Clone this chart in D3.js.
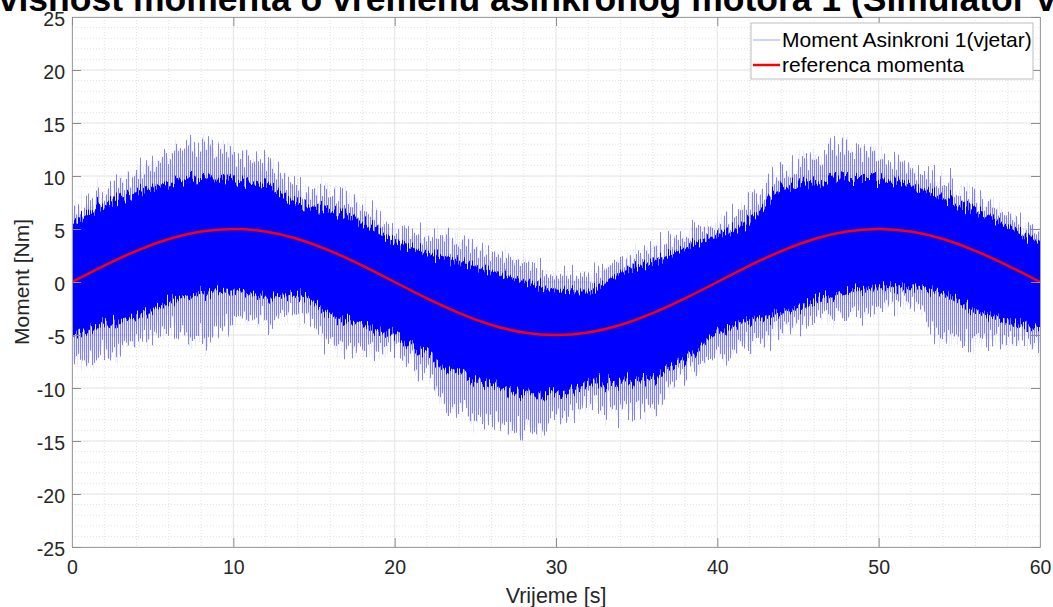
<!DOCTYPE html>
<html>
<head>
<meta charset="utf-8">
<script src="https://cdn.jsdelivr.net/npm/d3@7/dist/d3.min.js"></script>
<style>
body { margin: 0; background: #fff; }
text { font-family: "Liberation Sans", Arial, Helvetica, sans-serif; }
</style>
</head>
<body>
<div id="chart"></div>
<script>
// values, every 2 s
var time = [0,2,4,6,8,10,12,14,16,18,20,22,24,26,28,30,32,34,36,38,40,42,44,46,48,50,52,54,56,58,60];
// solid part of the noisy torque band
var coreTop = [5.4,7.3,8.4,9.2,9.8,9.6,9.0,7.5,6.8,5.6,3.9,2.8,1.9,1.0,0.1,-0.7,-0.8,0.9,1.9,3.2,4.4,5.8,8.8,9.4,9.9,9.9,9.2,7.9,6.8,5.2,3.7];
var coreBot = [-5.0,-4.1,-3.2,-1.9,-1.1,-0.8,-1.4,-1.2,-3.1,-3.9,-5.2,-6.8,-8.8,-9.8,-10.6,-10.6,-9.6,-9.5,-9.0,-7.3,-4.8,-3.7,-2.8,-1.9,-1.0,-0.5,-0.5,-1.1,-2.7,-3.6,-4.5];
// tips of the spikes
var spikeTop = [6.5,8.3,10.2,11.8,12.7,12.0,10.9,9.0,8.5,7.0,4.8,4.3,3.9,2.6,1.9,0.6,0.6,2.0,3.1,4.3,5.4,7.4,10.2,11.8,12.6,12.1,10.8,9.3,8.0,6.1,4.4];
var spikeBot = [-7.5,-7.0,-5.3,-4.5,-5.6,-3.4,-3.6,-2.7,-5.6,-6.1,-6.6,-8.8,-12.5,-13.2,-14.0,-12.8,-11.4,-12.2,-11.7,-8.6,-7.0,-5.9,-4.3,-3.4,-3.0,-2.4,-1.9,-5.3,-5.5,-5.2,-6.1];
// reference torque
var reference = [0,1.55,2.94,4.05,4.76,5,4.76,4.05,2.94,1.55,0,-1.55,-2.94,-4.05,-4.76,-5,-4.76,-4.05,-2.94,-1.55,0,1.55,2.94,4.05,4.76,5,4.76,4.05,2.94,1.55,0];

var xTicks = [0,10,20,30,40,50,60];
var yTicks = [-25,-20,-15,-10,-5,0,5,10,15,20,25];
var xMinor = [0,2,4,6,8,10,12,14,16,18,20,22,24,26,28,30,32,34,36,38,40,42,44,46,48,50,52,54,56,58,60];
var yMinor = [-25,-24,-23,-22,-21,-20,-19,-18,-17,-16,-15,-14,-13,-12,-11,-10,-9,-8,-7,-6,-5,-4,-3,-2,-1,0,1,2,3,4,5,6,7,8,9,10,11,12,13,14,15,16,17,18,19,20,21,22,23,24,25];
var legendNames = ["Moment Asinkroni 1(vjetar)", "referenca momenta"];
var title = "Ovisnost momenta o vremenu asinkronog motora 1 (Simulator vjetra)";

var margin = {top: 17, right: 13, bottom: 60, left: 72},
    width = 1053 - margin.left - margin.right,
    height = 607 - margin.top - margin.bottom;

var x = d3.scaleLinear().domain([0, 60]).range([0, width]);
var y = d3.scaleLinear().domain([-25, 25]).range([height, 0]);

var svgRoot = d3.select("#chart").append("svg")
    .attr("width", 1053)
    .attr("height", 607);

var defs = svgRoot.append("defs");
defs.append("clipPath").attr("id", "clip")
  .append("rect").attr("width", width).attr("height", height);

// vertical streak roughening, gives the band its spiky edge
function rough(id, scale) {
  var f = defs.append("filter").attr("id", id)
      .attr("x", "-2%").attr("y", "-40%").attr("width", "104%").attr("height", "180%");
  f.append("feTurbulence").attr("type", "fractalNoise")
      .attr("baseFrequency", "0.6 0.004").attr("numOctaves", 2).attr("seed", 4).attr("result", "n");
  f.append("feColorMatrix").attr("in", "n").attr("type", "matrix")
      .attr("values", "0 0 0 0 0.5  0 1 0 0 0  0 0 0 0 0  0 0 0 0 1").attr("result", "m");
  f.append("feDisplacementMap").attr("in", "SourceGraphic").attr("in2", "m")
      .attr("scale", scale).attr("xChannelSelector", "R").attr("yChannelSelector", "G");
}
rough("roughOuter", 55);
rough("roughCore", 30);

// thin vertical strokes for the spike fringe
var hatch = defs.append("pattern").attr("id", "hatch")
    .attr("patternUnits", "userSpaceOnUse")
    .attr("width", 2).attr("height", 8);
hatch.append("rect").attr("width", 1).attr("height", 8)
    .style("fill", "#0000ff").style("fill-opacity", 0.45);

var svg = svgRoot.append("g")
    .attr("transform", "translate(" + margin.left + "," + margin.top + ")");

// minor grid
svg.append("g").selectAll("line").data(xMinor).enter().append("line")
    .attr("x1", d => x(d)).attr("x2", d => x(d))
    .attr("y1", 0).attr("y2", height)
    .style("stroke", "#e2e2e2").style("stroke-dasharray", "1,2");
svg.append("g").selectAll("line").data(yMinor).enter().append("line")
    .attr("y1", d => y(d)).attr("y2", d => y(d))
    .attr("x1", 0).attr("x2", width)
    .style("stroke", "#e2e2e2").style("stroke-dasharray", "1,2");

// major grid
svg.append("g").selectAll("line").data(xTicks).enter().append("line")
    .attr("x1", d => x(d)).attr("x2", d => x(d))
    .attr("y1", 0).attr("y2", height)
    .style("stroke", "#e6e6e6");
svg.append("g").selectAll("line").data(yTicks).enter().append("line")
    .attr("y1", d => y(d)).attr("y2", d => y(d))
    .attr("x1", 0).attr("x2", width)
    .style("stroke", "#e6e6e6");

var plot = svg.append("g").attr("clip-path", "url(#clip)");

var fringe = d3.area()
    .x(function(d, i) { return x(time[i]); })
    .y0(function(d, i) { return y(spikeBot[i]); })
    .y1(function(d, i) { return y(spikeTop[i]); })
    .curve(d3.curveMonotoneX);

var core = d3.area()
    .x(function(d, i) { return x(time[i]); })
    .y0(function(d, i) { return y(coreBot[i]); })
    .y1(function(d, i) { return y(coreTop[i]); })
    .curve(d3.curveMonotoneX);

var outer = plot.append("g").attr("filter", "url(#roughOuter)");
outer.append("path")
    .attr("d", fringe(time))
    .style("fill", "#0000ff").style("fill-opacity", 0.08);
outer.append("path")
    .attr("d", fringe(time))
    .style("fill", "url(#hatch)");
plot.append("g").attr("filter", "url(#roughCore)")
  .append("path")
    .attr("d", core(time))
    .style("fill", "#0000ff");

var refLine = d3.line()
    .x(function(d, i) { return x(time[i]); })
    .y(function(d) { return y(d); })
    .curve(d3.curveNatural);

plot.append("path")
    .attr("d", refLine(reference))
    .style("fill", "none")
    .style("stroke", "#ff0000")
    .style("stroke-width", 2.5);

// axes
var fmt = function(d) { return String(d); };
var xAxis = d3.axisBottom(x).tickValues(xTicks).tickFormat(fmt).tickSizeInner(-9).tickSizeOuter(0).tickPadding(13);
var yAxis = d3.axisLeft(y).tickValues(yTicks).tickFormat(fmt).tickSizeInner(-9).tickSizeOuter(0).tickPadding(7);

var gx = svg.append("g")
    .attr("transform", "translate(0," + height + ")")
    .call(xAxis);
var gy = svg.append("g").call(yAxis);
gy.selectAll("text").attr("dy", "0.45em");
var gx2 = svg.append("g").call(d3.axisTop(x).tickValues(xTicks).tickSizeInner(-9).tickSizeOuter(0).tickFormat(""));
var gy2 = svg.append("g")
    .attr("transform", "translate(" + width + ",0)")
    .call(d3.axisRight(y).tickValues(yTicks).tickSizeInner(-9).tickSizeOuter(0).tickFormat(""));

[gx, gy, gx2, gy2].forEach(function(g) {
  g.selectAll("path.domain").style("stroke", "#a0a0a0");
  g.selectAll(".tick line").style("stroke", "#8c8c8c");
  g.selectAll("text").style("font-size", "19.5px").style("fill", "#262626")
    .style("font-family", "'Liberation Sans', Arial, sans-serif");
});

svg.append("text")
    .attr("x", width / 2).attr("y", height + 56)
    .attr("text-anchor", "middle")
    .style("font-size", "21.5px").style("fill", "#262626")
    .text("Vrijeme [s]");

svg.append("text")
    .attr("transform", "translate(" + (-43) + "," + (height / 2) + ") rotate(-90)")
    .attr("text-anchor", "middle")
    .style("font-size", "21px").style("fill", "#262626")
    .text("Moment [Nm]");

svgRoot.append("text")
    .attr("x", 557).attr("y", 10.5)
    .attr("text-anchor", "middle")
    .style("font-size", "35.5px").style("font-weight", "bold").style("fill", "#000")
    .text(title);

// legend
var lg = svgRoot.append("g").attr("transform", "translate(751,23)");
lg.append("rect")
    .attr("width", 282).attr("height", 56)
    .style("fill", "#fff").style("stroke", "#bdbdbd");
var legendColors = ["rgba(0,0,255,0.3)", "#ff0000"];
var legendWidths = [1.2, 2.5];
legendNames.forEach(function(name, i) {
  var ly = 17 + i * 25;
  lg.append("line")
      .attr("x1", 2).attr("x2", 29).attr("y1", ly).attr("y2", ly)
      .style("stroke", legendColors[i]).style("stroke-width", legendWidths[i]);
  lg.append("text")
      .attr("x", 31).attr("y", ly).attr("dy", "0.35em")
      .style("font-size", "21px").style("fill", "#000")
      .text(name);
});
</script>
</body>
</html>
